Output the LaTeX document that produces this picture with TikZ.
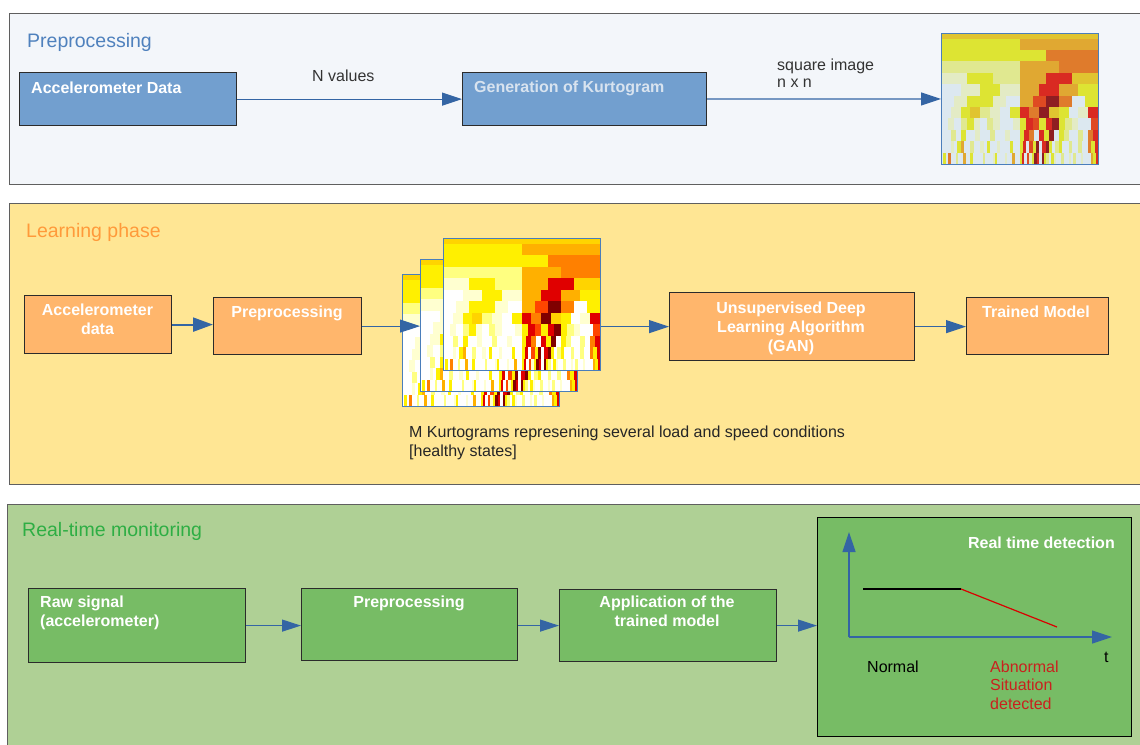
\documentclass[tikz,border=0pt]{standalone}
\usepackage{fontspec}
\setmainfont{Liberation Sans}
\usetikzlibrary{arrows.meta}

\definecolor{panelgray}{HTML}{5F5F5F}
\definecolor{pOneFill}{HTML}{F3F6FA}
\definecolor{pTwoFill}{HTML}{FFE694}
\definecolor{pThreeFill}{HTML}{AFD095}
\definecolor{blueBox}{HTML}{729FCF}
\definecolor{orangeBox}{HTML}{FFB66C}
\definecolor{greenBox}{HTML}{77BC65}
\definecolor{boxborder}{HTML}{2B2B2B}
\definecolor{arrblue}{HTML}{3465A4}
\definecolor{titleBlue}{HTML}{4F81BD}
\definecolor{titleOrange}{HTML}{FF9A3A}
\definecolor{titleGreen}{HTML}{2EAE44}
\definecolor{txtgray}{HTML}{333333}
\definecolor{darkred}{HTML}{C9211E}
\definecolor{lightlabel}{HTML}{D8E3EF}
\definecolor{kframeblue}{HTML}{4A7EBB}

% hot palette
\definecolor{hot0}{HTML}{FFFFFF}
\definecolor{hot1}{HTML}{FFFFD0}
\definecolor{hot2}{HTML}{FFFF80}
\definecolor{hot3}{HTML}{FFF000}
\definecolor{hot4}{HTML}{FFD400}
\definecolor{hot5}{HTML}{FFB000}
\definecolor{hot6}{HTML}{FF8000}
\definecolor{hot7}{HTML}{FF4500}
\definecolor{hot8}{HTML}{E00000}
\definecolor{hot9}{HTML}{800000}
% pale palette
\definecolor{pal0}{HTML}{DCE8F0}
\definecolor{pal1}{HTML}{E3EBC5}
\definecolor{pal2}{HTML}{E0E890}
\definecolor{pal3}{HTML}{DDE433}
\definecolor{pal4}{HTML}{E0C430}
\definecolor{pal5}{HTML}{E0A832}
\definecolor{pal6}{HTML}{DF7B2C}
\definecolor{pal7}{HTML}{DF4A22}
\definecolor{pal8}{HTML}{D92A22}
\definecolor{pal9}{HTML}{8E1E22}

\newcommand\krow[5]{%
  \foreach \v [count=\i from 0] in {#5}{%
    \fill[fill=#1\v] ({\KX+\KW*\i/#4},{\KY+\KH*#2/11.5}) rectangle ({\KX+\KW*(\i+1)/#4+0.4},{\KY+\KH*(#2+#3)/11.5+0.4});
  }}
\newcommand\kurtogram[5]{%
  \begin{scope}
    \def\KX{#2}\def\KY{#3}\def\KW{#4}\def\KH{#5}
    \clip (#2,#3) rectangle ++(#4,#5);
    \krow{#1}{0}{0.5}{1}{4}
    \krow{#1}{0.5}{1}{2}{3,5}
    \krow{#1}{1.5}{1}{3}{3,3,6}
    \krow{#1}{2.5}{1}{4}{2,2,5,6}
    \krow{#1}{3.5}{1}{6}{1,3,2,5,8,4}
    \krow{#1}{4.5}{1}{8}{0,1,3,1,5,8,5,3}
    \krow{#1}{5.5}{1}{12}{0,1,3,3,1,0,5,7,9,6,0,3}
    \krow{#1}{6.5}{1}{16}{0,1,3,4,2,1,0,3,8,6,9,4,3,0,1,8}
    \krow{#1}{7.5}{1}{24}{0,1,0,2,3,1,0,2,1,0,0,1,3,8,7,3,8,9,3,2,1,0,0,7}
    \krow{#1}{8.5}{1}{32}{0,0,2,0,3,0,0,1,0,0,2,0,0,1,0,0,3,8,6,0,8,3,9,0,3,2,0,0,2,0,6,8}
    \krow{#1}{9.5}{1}{48}{0,0,0,1,0,3,5,0,0,2,0,0,1,0,3,0,0,1,0,0,0,3,0,0,3,8,0,7,3,9,0,8,9,3,0,2,3,0,0,2,0,0,2,0,0,6,3,8}
    \krow{#1}{10.5}{1}{64}{0,3,0,6,0,0,2,0,0,5,0,0,3,0,0,0,0,2,0,0,0,1,3,0,0,0,1,0,0,5,0,0,3,8,0,7,1,3,9,8,0,9,3,2,0,3,1,0,0,2,0,0,1,0,2,0,0,1,0,0,0,5,3,8}
  \end{scope}}
\newcommand\mlines[2][c]{\begin{tabular}[t]{@{}#1@{}}#2\end{tabular}}

\tikzset{
  panel/.style={draw=panelgray, line width=1.4pt, anchor=north west, inner sep=0pt},
  box/.style={draw=boxborder, line width=1.2pt, anchor=north west, inner sep=0pt},
  kframe/.style={draw=kframeblue, line width=0.9pt, anchor=north west, inner sep=0pt, minimum width=157pt, minimum height=132pt},
  arr/.style={draw=arrblue, line width=1.2pt, -{Triangle[length=20pt,width=13pt]}},
  arrs/.style={draw=arrblue, line width=1.2pt, -{Triangle[length=19pt,width=12pt]}},
  btext/.style={font=\fontsize{16}{19}\selectfont\bfseries, text=white, inner sep=0pt},
  ltext/.style={font=\fontsize{16}{19}\selectfont, text=txtgray, inner sep=0pt},
  ptitle/.style={font=\fontsize{19.5}{23}\selectfont, inner sep=0pt, anchor=base west},
}

\begin{document}
\begin{tikzpicture}[x=1pt,y=-1pt]
\useasboundingbox (0,0) rectangle (1140,744);
\fill[white] (0,0) rectangle (1140,744);

% panels
\node[panel, fill=pOneFill, minimum width=1150pt, minimum height=171pt] (p1) at (9,13) {};
\node[panel, fill=pTwoFill, minimum width=1150pt, minimum height=281pt] (p2) at (9,203) {};
\node[panel, fill=pThreeFill, minimum width=1150pt, minimum height=270pt] (p3) at (7,504) {};

\node[ptitle, text=titleBlue] (t1) at (27,47) {Preprocessing};
\node[ptitle, text=titleOrange] (t2) at (26,237) {Learning phase};
\node[ptitle, text=titleGreen] (t3) at (22,536) {Real-time monitoring};

% --- panel 1
\node[box, fill=blueBox, minimum width=217pt, minimum height=53pt] (A) at (19,72) {};
\node[box, fill=blueBox, minimum width=244pt, minimum height=53pt] (G) at (462,72) {};
\node[btext, anchor=base west] (tA) at (31,93) {Accelerometer Data};
\node[btext, text=lightlabel, anchor=base west] (tG) at (474,92) {Generation of Kurtogram};

\kurtogram{pal}{941}{33}{157}{131}
\node[kframe, minimum height=131pt] (k1) at (941,33) {};

\draw[arr] (A) -- (G);
\draw[arr] (G) -- (k1);
\node[ltext, anchor=base west] (lN) at (312,81) {N values};
\node[ltext, anchor=base west, font=\fontsize{16}{17.5}\selectfont] (lS) at (777,70) {\mlines[l]{square image\\n x n}};

% --- panel 2
\node[box, fill=orangeBox, minimum width=147pt, minimum height=58pt] (acc) at (24,295) {};
\node[box, fill=orangeBox, minimum width=148pt, minimum height=57pt] (prep) at (213,297) {};
\node[box, fill=orangeBox, minimum width=245pt, minimum height=68pt] (unsup) at (669,292) {};
\node[box, fill=orangeBox, minimum width=142pt, minimum height=57pt] (trained) at (966,297) {};
\node[btext, anchor=base] (tacc) at (97.5,315) {\mlines{Accelerometer\\data}};
\node[btext, anchor=base] (tprep) at (287,317) {Preprocessing};
\node[btext, anchor=base] (tunsup) at (791,313) {\mlines{Unsupervised Deep\\Learning Algorithm\\(GAN)}};
\node[btext, anchor=base] (ttrained) at (1036,317) {Trained Model};

\kurtogram{hot}{402}{274}{157}{132}
\node[kframe] (kb) at (402,274) {};
\kurtogram{hot}{420}{259}{157}{132}
\node[kframe] (km) at (420,259) {};
\kurtogram{hot}{443}{238}{157}{132}
\node[kframe] (kf) at (443,238) {};

\draw[arr, line width=2.2pt, -{Triangle[length=20pt,width=14pt]}] (acc.east) -- (acc.east -| prep.west);
\draw[arr, line width=1pt] (prep.east) -- (prep.east -| km.west);
\draw[arr] (unsup.west -| kf.east) -- (unsup.west);
\draw[arr] (unsup.east) -- (unsup.east -| trained.west);

\node[ltext, text=black!85, anchor=base west] (cap) at (409,437) {\mlines[l]{M Kurtograms represening several load and speed conditions\\{[healthy states]}}};

% --- panel 3
\node[box, fill=greenBox, minimum width=217pt, minimum height=74pt] (raw) at (28,588) {};
\node[box, fill=greenBox, minimum width=216pt, minimum height=72pt] (bprep) at (301,588) {};
\node[box, fill=greenBox, minimum width=217pt, minimum height=72pt] (app) at (559,589) {};
\node[box, fill=greenBox, draw=black, minimum width=314pt, minimum height=219pt] (det) at (817,517) {};

\node[btext, anchor=base west] (traw) at (40,607) {\mlines[l]{Raw signal\\(accelerometer)}};
\node[btext, anchor=base] (tbprep) at (409,607) {Preprocessing};
\node[btext, anchor=base] (tapp) at (667,607) {\mlines{Application of the\\trained model}};
\node[btext, anchor=base east] (tdet) at (1115,548) {Real time detection};

\draw[arrs] (raw.east) -- (raw.east -| bprep.west);
\draw[arrs] (bprep.east |- app.west) -- (app.west);
\draw[arrs] (app.east) -- (app.east -| det.west);

\coordinate (o) at (849,637);
\coordinate (ytop) at (849,532);
\coordinate (xend) at (1112,637);
\coordinate (c1) at (863,589);
\coordinate (c2) at (961,589);
\coordinate (c3) at (1057,627);
\draw[arr] (o) -- (ytop);
\draw[arr] (o) -- (xend);
\draw[black, line width=1.2pt] (c1) -- (c2);
\draw[red!85!black, line width=1.2pt] (c2) -- (c3);

\node[ltext, text=black, anchor=base west] (tt) at (1104,662) {t};
\node[ltext, text=black, anchor=base west] (tnorm) at (867,672) {Normal};
\node[ltext, text=darkred, anchor=base west, font=\fontsize{16}{18.5}\selectfont] (tabn) at (990,672) {\mlines[l]{Abnormal\\Situation\\detected}};
\end{tikzpicture}
\end{document}
